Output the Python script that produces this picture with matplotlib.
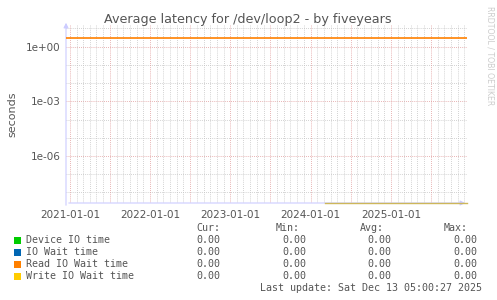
import matplotlib
matplotlib.use("Agg")
import matplotlib.pyplot as plt
import matplotlib.dates as mdates
import numpy as np
from datetime import datetime

# data
start = datetime(2020, 12, 13, 5, 0)
end = datetime(2025, 12, 13, 5, 0)
read_dates = [start, end]
read_vals = [2.9, 2.9]
write_dates = [datetime(2024, 3, 5), end]
write_vals = [2.6e-9, 2.6e-9]

series = ['Device IO time', 'IO Wait time', 'Read IO Wait time', 'Write IO Wait time']
colors = ['#00cc00', '#0066b3', '#ff8000', '#ffcc00']
cur = [0.0, 0.0, 0.0, 0.0]
mins = [0.0, 0.0, 0.0, 0.0]
avgs = [0.0, 0.0, 0.0, 0.0]
maxs = [0.0, 0.0, 0.0, 0.0]
yticks = [1e0, 1e-3, 1e-6]
ytick_labels = ['1e+00', '1e-03', '1e-06']

W, H = 497, 300
fig = plt.figure(figsize=(W / 100, H / 100), dpi=100)
fig.patch.set_facecolor('white')
ax = fig.add_axes([66 / W, 1 - 203 / H, 401 / W, 178 / H])
ax.set_facecolor('white')
ax.set_yscale('log')
ax.set_ylim(10 ** -8.58, 10 ** 1.19)
ax.set_xlim(start, end)

# grid: minor gray, major red
red = '#e09a9a'
gray = '#c4c4c4'
for d in range(-8, 2):
    c = red if d % 3 == 0 else gray
    ax.axhline(10.0 ** d, color=c, lw=0.6, ls=(0, (1, 1.5)), zorder=1)
for yr in range(2020, 2026):
    for mo in range(1, 13):
        dt = datetime(yr, mo, 1)
        if dt < start or dt > end:
            continue
        c = red if mo in (1, 7) else gray
        ax.axvline(dt, color=c, lw=0.6, ls=(0, (1, 1.5)), zorder=1)

ax.plot(read_dates, read_vals, color=colors[2], lw=1.2, zorder=3)

for s in ax.spines.values():
    s.set_visible(False)
axc = '#ccccff'
ax.annotate('', xy=(468 / W, 1 - 203 / H), xytext=(66 / W, 1 - 203 / H), xycoords='figure fraction',
            arrowprops=dict(arrowstyle='-|>', color=axc, lw=0.8, mutation_scale=7), zorder=2)
ax.annotate('', xy=(66 / W, 1 - 20 / H), xytext=(66 / W, 1 - 208 / H), xycoords='figure fraction',
            arrowprops=dict(arrowstyle='-|>', color=axc, lw=0.8, mutation_scale=7), zorder=2)
ax.plot(write_dates, write_vals, color='#cdb75a', lw=1.0, zorder=6, clip_on=False)

ax.set_yticks(yticks)
ax.set_yticklabels(ytick_labels)
ax.yaxis.set_minor_locator(matplotlib.ticker.NullLocator())
ax.xaxis.set_major_locator(mdates.YearLocator(1, month=1, day=1))
ax.xaxis.set_major_formatter(mdates.DateFormatter('%Y-%m-%d'))
ax.tick_params(axis='both', length=0, labelsize=7.5, labelcolor='#555555', pad=4)
ax.tick_params(axis='x', pad=5)
ax.set_ylabel('seconds', fontsize=8, color='#555555', labelpad=6)

fig.text(248 / W, 1 - 20 / H, 'Average latency for /dev/loop2 - by fiveyears',
         ha='center', va='center', fontsize=9.2, color='#555555')
fig.text(490 / W, 1 - 56 / H, 'RRDTOOL / TOBI OETIKER', rotation=270, ha='center', va='center',
         fontsize=5.6, color='#cccccc')

mono = 'DejaVu Sans Mono'
fs = 7.2
tc = '#555555'
fig.text(220 / W, 1 - 228 / H, 'Cur:', ha='right', va='center', family=mono, fontsize=fs, color=tc)
fig.text(300 / W, 1 - 228 / H, 'Min:', ha='right', va='center', family=mono, fontsize=fs, color=tc)
fig.text(384 / W, 1 - 228 / H, 'Avg:', ha='right', va='center', family=mono, fontsize=fs, color=tc)
fig.text(468 / W, 1 - 228 / H, 'Max:', ha='right', va='center', family=mono, fontsize=fs, color=tc)
for i, name in enumerate(series):
    y = 1 - (240 + 12 * i) / H
    fig.patches.append(plt.Rectangle((14 / W, y - 3.5 / H), 7 / W, 7 / H, transform=fig.transFigure,
                                     facecolor=colors[i], edgecolor='none'))
    fig.text(26 / W, y, name, ha='left', va='center', family=mono, fontsize=fs, color=tc)
    fig.text(220 / W, y, '%.2f' % cur[i], ha='right', va='center', family=mono, fontsize=fs, color=tc)
    fig.text(306 / W, y, '%.2f' % mins[i], ha='right', va='center', family=mono, fontsize=fs, color=tc)
    fig.text(391 / W, y, '%.2f' % avgs[i], ha='right', va='center', family=mono, fontsize=fs, color=tc)
    fig.text(477 / W, y, '%.2f' % maxs[i], ha='right', va='center', family=mono, fontsize=fs, color=tc)
fig.text(482 / W, 1 - 288 / H, 'Last update: Sat Dec 13 05:00:27 2025', ha='right', va='center',
         family=mono, fontsize=fs, color=tc)

fig.savefig('out.png', dpi=100, facecolor='white')
